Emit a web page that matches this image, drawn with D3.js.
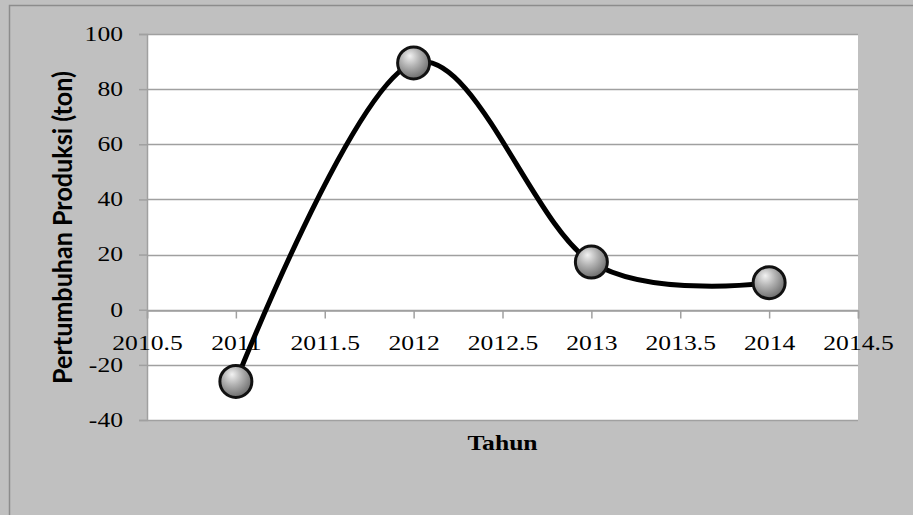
<!DOCTYPE html>
<html>
<head>
<meta charset="utf-8">
<script src="https://cdn.jsdelivr.net/npm/d3@7"></script>
<style>
  html, body { margin: 0; padding: 0; background: #c0c0c0; }
  svg { display: block; }
</style>
</head>
<body>
<svg id="chart" width="913" height="515"></svg>
<script>
// Growth of production per year (ton)
const years = [2011, 2012, 2013, 2014];
const growth = [-26, 89.5, 17.3, 9.8];
const xTicks = [2010.5, 2011, 2011.5, 2012, 2012.5, 2013, 2013.5, 2014, 2014.5];
const yTicks = [-40, -20, 0, 20, 40, 60, 80, 100];

const svg = d3.select("#chart");
const W = 913, H = 515;
const plot = { left: 147, right: 858, top: 34, bottom: 420 };
const serif = "'Liberation Serif', 'Times New Roman', serif";
const widen = 1.28; // horizontal stretch of the serif labels

// Outer chart area
svg.append("rect")
  .attr("x", 9.5).attr("y", 5.5)
  .attr("width", W + 20).attr("height", H + 20)
  .attr("fill", "#c0c0c0").attr("stroke", "#8c8c8c").attr("stroke-width", 1.5);

// Plot area
svg.append("rect")
  .attr("x", plot.left).attr("y", plot.top)
  .attr("width", plot.right - plot.left).attr("height", plot.bottom - plot.top)
  .attr("fill", "#ffffff");

const x = d3.scaleLinear().domain([2010.5, 2014.5]).range([plot.left, plot.right]);
const y = d3.scaleLinear().domain([-40, 100]).range([plot.bottom, plot.top]);

// Horizontal gridlines
svg.append("g")
  .selectAll("line")
  .data(yTicks)
  .join("line")
  .attr("x1", plot.left).attr("x2", plot.right)
  .attr("y1", d => Math.round(y(d)) + 0.5).attr("y2", d => Math.round(y(d)) + 0.5)
  .attr("stroke", "#a0a0a0").attr("stroke-width", 1.5);

// Y axis
const yAxis = svg.append("g")
  .attr("transform", `translate(${plot.left},0)`)
  .call(d3.axisLeft(y).tickValues(yTicks).tickSize(8).tickPadding(16).tickFormat(d => String(d)));
yAxis.select(".domain").attr("stroke", "#a0a0a0").attr("stroke-width", 1.5);
yAxis.selectAll(".tick line").attr("stroke", "#a0a0a0").attr("stroke-width", 1.5);
yAxis.selectAll(".tick text")
  .attr("fill", "#000")
  .attr("x", 0)
  .attr("transform", `translate(-24,0) scale(${widen},1)`)
  .style("font-family", serif)
  .style("font-size", "20px");

// X axis crossing at zero
const xAxis = svg.append("g")
  .attr("transform", `translate(0,${Math.round(y(0)) + 0.5})`)
  .call(d3.axisBottom(x).tickValues(xTicks).tickSize(8).tickPadding(17).tickFormat(d => String(d)));
xAxis.select(".domain").attr("stroke", "#a0a0a0").attr("stroke-width", 1.5);
xAxis.selectAll(".tick line").attr("stroke", "#a0a0a0").attr("stroke-width", 1.5);
xAxis.selectAll(".tick text")
  .attr("fill", "#000")
  .attr("transform", `scale(${widen},1)`)
  .style("font-family", serif)
  .style("font-size", "20px");

// Axis titles
svg.append("text")
  .attr("transform", `translate(${(plot.left + plot.right) / 2},450) scale(${widen},1)`)
  .attr("text-anchor", "middle")
  .style("font-family", serif)
  .style("font-size", "20px").style("font-weight", "bold")
  .text("Tahun");

const yTitle = svg.append("text")
  .attr("transform", `translate(72,${(plot.top + plot.bottom) / 2 + 0.5}) scale(1.08,1) rotate(-90)`)
  .attr("text-anchor", "middle")
  .style("font-family", "Lato, 'Open Sans', sans-serif")
  .style("font-size", "26px").style("font-weight", "bold")
  .text("Pertumbuhan Produksi (ton)");
// fit the title to the plot height span
const len = yTitle.node().getComputedTextLength();
yTitle.style("font-size", (26 * 313 / len).toFixed(2) + "px");

// Smoothed series line
const pts = years.map((yr, i) => [yr, growth[i]]);
const line = d3.line()
  .x(d => x(d[0])).y(d => y(d[1]))
  .curve(d3.curveCatmullRom.alpha(0));
svg.append("path")
  .datum(pts)
  .attr("d", line)
  .attr("fill", "none")
  .attr("stroke", "#000")
  .attr("stroke-width", 5)
  .attr("stroke-linejoin", "round");

// Glossy sphere markers
const defs = svg.append("defs");
const grad = defs.append("radialGradient")
  .attr("id", "sphere").attr("cx", "40%").attr("cy", "35%").attr("r", "65%")
  .attr("fx", "38%").attr("fy", "28%");
grad.append("stop").attr("offset", "0%").attr("stop-color", "#f2f2f2");
grad.append("stop").attr("offset", "45%").attr("stop-color", "#b4b4b4");
grad.append("stop").attr("offset", "100%").attr("stop-color", "#6e6e6e");

svg.append("g")
  .selectAll("circle")
  .data(pts)
  .join("circle")
  .attr("cx", d => x(d[0])).attr("cy", d => y(d[1]))
  .attr("r", 16)
  .attr("fill", "url(#sphere)")
  .attr("stroke", "#111").attr("stroke-width", 3);
</script>
</body>
</html>
